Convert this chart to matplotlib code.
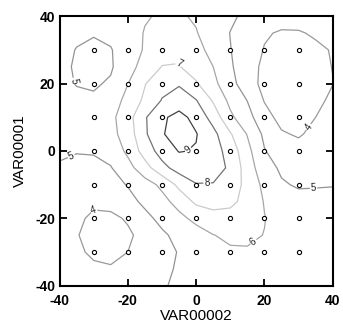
import numpy as np
import matplotlib
matplotlib.use("Agg")
from matplotlib import pyplot as plt

plt.rcParams['font.family'] = ['Liberation Sans', 'DejaVu Sans']
plt.rcParams['axes.unicode_minus'] = False

# surface, 5-unit grid
grid_x = [-40, -35, -30, -25, -20, -15, -10, -5, 0, 5, 10, 15, 20, 25, 30, 35, 40]
grid_y = [40, 35, 30, 25, 20, 15, 10, 5, 0, -5, -10, -15, -20, -25, -30, -35, -40]
z_rows = [
    [5.40, 5.40, 5.45, 5.55, 5.70, 5.93, 6.10, 6.10, 5.90, 5.60, 5.15, 4.80, 4.55, 4.40, 4.35, 4.30, 4.30],
    [5.30, 5.15, 5.06, 5.20, 5.60, 6.05, 6.35, 6.40, 6.05, 5.55, 4.98, 4.50, 4.10, 3.90, 3.93, 4.10, 4.20],
    [5.25, 4.97, 4.82, 4.95, 5.45, 6.10, 6.60, 6.80, 6.30, 5.70, 5.03, 4.50, 3.95, 3.75, 3.70, 3.85, 4.05],
    [5.18, 4.92, 4.78, 4.88, 5.70, 6.30, 7.03, 7.05, 6.55, 6.00, 5.15, 4.30, 3.85, 3.65, 3.60, 3.75, 4.02],
    [5.25, 4.96, 4.88, 5.12, 5.98, 6.95, 7.70, 7.90, 7.10, 6.25, 5.35, 4.40, 3.75, 3.50, 3.45, 3.62, 3.98],
    [5.30, 5.20, 5.15, 5.50, 6.30, 7.20, 8.05, 8.50, 8.05, 6.90, 5.75, 4.98, 3.95, 3.55, 3.45, 3.75, 4.20],
    [5.40, 5.40, 5.45, 5.75, 6.60, 7.90, 8.85, 9.30, 8.70, 7.60, 6.20, 5.35, 4.35, 3.70, 3.65, 4.00, 4.55],
    [5.30, 5.35, 5.45, 5.70, 6.45, 7.85, 8.90, 9.55, 9.05, 8.30, 7.10, 5.95, 4.80, 4.10, 3.90, 4.25, 4.75],
    [5.15, 5.03, 5.05, 5.35, 6.20, 7.45, 8.40, 9.05, 8.95, 8.45, 7.60, 6.30, 5.05, 4.55, 4.35, 4.60, 4.90],
    [4.90, 4.85, 4.85, 4.95, 5.65, 6.60, 7.70, 8.40, 8.60, 8.40, 7.85, 6.50, 5.40, 4.85, 4.70, 4.80, 4.95],
    [4.70, 4.60, 4.55, 4.70, 5.05, 5.60, 6.20, 7.25, 7.95, 7.95, 7.55, 6.70, 5.75, 5.10, 4.90, 4.95, 4.97],
    [4.55, 4.35, 4.15, 4.30, 4.70, 5.20, 5.70, 6.35, 7.20, 7.45, 7.25, 6.65, 5.95, 5.50, 5.30, 5.20, 5.20],
    [4.45, 4.15, 3.85, 3.80, 4.10, 4.75, 5.25, 5.75, 6.25, 6.55, 6.60, 6.45, 6.03, 5.65, 5.45, 5.35, 5.30],
    [4.40, 4.05, 3.70, 3.60, 3.85, 4.30, 4.85, 5.25, 5.60, 5.98, 6.15, 6.15, 5.98, 5.70, 5.50, 5.40, 5.35],
    [4.45, 4.15, 3.85, 3.70, 4.00, 4.35, 4.70, 5.05, 5.40, 5.70, 5.90, 5.92, 5.80, 5.60, 5.45, 5.35, 5.30],
    [4.50, 4.30, 4.15, 4.10, 4.25, 4.50, 4.80, 5.10, 5.35, 5.55, 5.70, 5.72, 5.65, 5.50, 5.40, 5.30, 5.28],
    [4.55, 4.45, 4.40, 4.40, 4.50, 4.70, 4.92, 5.15, 5.30, 5.45, 5.55, 5.55, 5.50, 5.40, 5.35, 5.28, 5.25],
]

levels = [4, 5, 6, 7, 8, 9]
level_colors = ['#999999', '#939393', '#a6a6a6', '#cbcbcb', '#727272', '#404040']

# where the numbers sit on the lines
label_spots = [(32.6, 7.4), (-30.6, -15.7), (-34.0, 21.0), (-37.0, -0.5),
               (34.4, -11.3), (16.8, -27.0), (-4.0, 28.0), (3.2, -9.8), (-2.6, 0.6)]

# sample points
pts_x = [-30, -20, -10, 0, 10, 20, 30]
pts_y = [-30, -20, -10, 0, 10, 20, 30]

X, Y = np.meshgrid(grid_x, grid_y[::-1])
Z = np.array(z_rows[::-1])

fig = plt.figure(figsize=(3.43, 3.29), dpi=100)
ax = fig.add_axes([0.1735, 0.1316, 0.7965, 0.819])

cs = ax.contour(X, Y, Z, levels=levels, colors=level_colors, linewidths=0.9)
ax.clabel(cs, fontsize=7, inline=True, inline_spacing=1, fmt='%d',
          manual=label_spots, colors='#222222')

PX, PY = np.meshgrid(pts_x, pts_y)
ax.plot(PX.ravel(), PY.ravel(), 'o', ls='none', ms=3.0, mfc='white',
        mec='black', mew=0.8)

ax.set_xlim(-40, 40)
ax.set_ylim(-40, 40)
ax.set_xticks([-40, -20, 0, 20, 40])
ax.set_yticks([-40, -20, 0, 20, 40])
ax.tick_params(direction='in', top=True, right=True, length=5, width=1.3,
               labelsize=10)
ax.tick_params(axis='x', pad=6)
ax.tick_params(axis='y', pad=3)
for lab in ax.get_xticklabels() + ax.get_yticklabels():
    lab.set_fontweight('bold')
for sp in ax.spines.values():
    sp.set_linewidth(1.5)

ax.set_xlabel('VAR00002', fontsize=11, labelpad=1)
ax.set_ylabel('VAR00001', fontsize=11, labelpad=6)

fig.savefig('out.png', dpi=100)
